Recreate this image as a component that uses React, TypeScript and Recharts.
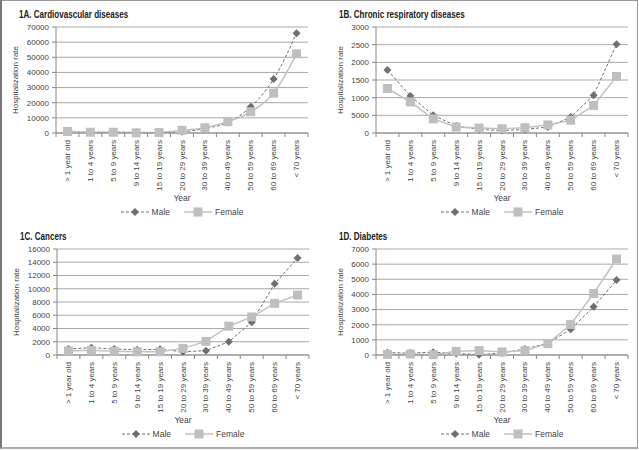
import { LineChart, Line, XAxis, YAxis, CartesianGrid, Legend } from 'recharts';

const ageGroups = [
  '> 1 year old',
  '1 to 4 years',
  '5 to 9 years',
  '9 to 14 years',
  '15 to 19 years',
  '20 to 29 years',
  '30 to 39 years',
  '40 to 49 years',
  '50 to 59 years',
  '60 to 69 years',
  '< 70 years',
];

const cardioMale = [1500, 500, 500, 500, 300, 800, 3000, 7000, 17300, 35600, 65800];
const cardioFemale = [1000, 500, 500, 100, 300, 1800, 3500, 7500, 14000, 26300, 52300];
const cardioTicks = [0, 10000, 20000, 30000, 40000, 50000, 60000, 70000];

const respMale = [1780, 1050, 500, 200, 100, 70, 100, 170, 450, 1070, 2510];
const respFemale = [1260, 880, 400, 170, 140, 120, 150, 230, 360, 780, 1600];
const respTicks = [0, 500, 1000, 1500, 2000, 2500, 3000];
// the source figure prints "5000" at the 500 gridline
const respTickLabels = ['0', '5000', '1000', '1500', '2000', '2500', '3000'];

const cancerMale = [900, 1100, 900, 800, 850, 500, 650, 2000, 4950, 10750, 14650];
const cancerFemale = [600, 700, 550, 500, 500, 1000, 2050, 4350, 5750, 7800, 9050];
const cancerTicks = [0, 2000, 4000, 6000, 8000, 10000, 12000, 14000, 16000];

const diabMale = [150, 130, 180, 100, 20, 130, 400, 770, 1700, 3180, 4950];
const diabFemale = [40, 60, 20, 240, 290, 200, 290, 750, 2010, 4060, 6340];
const diabTicks = [0, 1000, 2000, 3000, 4000, 5000, 6000, 7000];

const FONT = "'Liberation Sans', Arial, sans-serif";
const MALE_COLOR = '#6f6f6f';
const FEMALE_COLOR = '#c2c2c2';

const W = 320;
const H = 225;
const MARGIN = { top: 27, right: 12, left: 0, bottom: 6 };
const Y_W = 56;
const BAND = (W - MARGIN.right - Y_W) / ageGroups.length;

function Diamond(props: any) {
  const { cx, cy, index } = props;
  if (cx == null || cy == null) return null;
  return (
    <path
      key={`d-${index}`}
      d={`M${cx},${cy - 4}L${cx + 4},${cy}L${cx},${cy + 4}L${cx - 4},${cy}Z`}
      fill={MALE_COLOR}
    />
  );
}

function Square(props: any) {
  const { cx, cy, index } = props;
  if (cx == null || cy == null) return null;
  return <rect key={`s-${index}`} x={cx - 4.5} y={cy - 4.5} width={9} height={9} fill="#bfbfbf" />;
}

function AgeTick(props: any) {
  const { x, y, payload, index } = props;
  return (
    <g>
      <line x1={x + BAND / 2} x2={x + BAND / 2} y1={y} y2={y + 4} stroke="#888" />
      {index === 0 && <line x1={x - BAND / 2} x2={x - BAND / 2} y1={y} y2={y + 4} stroke="#888" />}
      <text
        x={x}
        y={y + 7}
        transform={`rotate(-90 ${x} ${y + 7})`}
        textAnchor="end"
        dominantBaseline="central"
        fontSize={8}
        fill="#444"
        fontFamily={FONT}
      >
        {payload.value}
      </text>
    </g>
  );
}

function LegendBox() {
  return (
    <div
      style={{
        display: 'flex',
        justifyContent: 'center',
        alignItems: 'center',
        height: 14,
        gap: 14,
        fontFamily: FONT,
        fontSize: 8.5,
        color: '#444',
      }}
    >
      <span style={{ display: 'flex', alignItems: 'center' }}>
        <svg width={28} height={10}>
          <line x1={0} x2={28} y1={5} y2={5} stroke={MALE_COLOR} strokeDasharray="3 2" />
          <path d="M14,1L18,5L14,9L10,5Z" fill={MALE_COLOR} />
        </svg>
        <span style={{ marginLeft: 3 }}>Male</span>
      </span>
      <span style={{ display: 'flex', alignItems: 'center' }}>
        <svg width={28} height={10}>
          <line x1={0} x2={28} y1={5} y2={5} stroke={FEMALE_COLOR} strokeWidth={1.5} />
          <rect x={9.5} y={0.5} width={9} height={9} fill="#bfbfbf" />
        </svg>
        <span style={{ marginLeft: 3 }}>Female</span>
      </span>
    </div>
  );
}

interface PanelProps {
  title: string;
  left: number;
  top: number;
  male: number[];
  female: number[];
  ticks: number[];
  tickLabels?: string[];
  labelOffset: number;
  curve: 'linear' | 'monotone';
}

function Panel({ title, left, top, male, female, ticks, tickLabels, labelOffset, curve }: PanelProps) {
  const data = ageGroups.map((age, i) => ({ age, male: male[i], female: female[i] }));
  const fmt = (v: number) => {
    const i = ticks.indexOf(v);
    return tickLabels && i >= 0 ? tickLabels[i] : String(v);
  };
  return (
    <div style={{ position: 'absolute', left, top, width: W, height: H }}>
      <div
        style={{
          position: 'absolute',
          left: 19,
          top: 8,
          fontFamily: FONT,
          fontWeight: 'bold',
          fontSize: 11.5,
          lineHeight: '12px',
          color: '#222',
          whiteSpace: 'nowrap',
          transform: 'scaleX(0.7)',
          transformOrigin: 'left center',
        }}
      >
        {title}
      </div>
      <LineChart width={W} height={H} data={data} margin={MARGIN} style={{ fontFamily: FONT }}>
        <CartesianGrid vertical={false} stroke="#a9a9a9" />
        <XAxis
          dataKey="age"
          interval={0}
          height={72}
          padding={{ left: BAND / 2, right: BAND / 2 }}
          tickLine={false}
          tickSize={0}
          tickMargin={0}
          axisLine={{ stroke: '#888' }}
          tick={<AgeTick />}
          label={{ value: 'Year', position: 'insideBottom', offset: 4, fontSize: 8.5, fill: '#444' }}
        />
        <YAxis
          width={Y_W}
          domain={[ticks[0], ticks[ticks.length - 1]]}
          ticks={ticks}
          interval={0}
          tickFormatter={fmt}
          tickSize={4}
          tickMargin={3}
          axisLine={{ stroke: '#888' }}
          tickLine={{ stroke: '#888' }}
          tick={{ fontSize: 8, fill: '#444' }}
          label={{
            value: 'Hospitalization rate',
            angle: -90,
            position: 'insideLeft',
            offset: labelOffset,
            fontSize: 8,
            fill: '#444',
            style: { textAnchor: 'middle' },
          }}
        />
        <Legend
          verticalAlign="bottom"
          wrapperStyle={{ left: Y_W, width: W - Y_W - MARGIN.right }}
          content={() => <LegendBox />}
        />
        <Line
          type={curve}
          dataKey="male"
          name="Male"
          stroke={MALE_COLOR}
          strokeDasharray="3 2"
          strokeWidth={1}
          dot={<Diamond />}
          isAnimationActive={false}
        />
        <Line
          type={curve}
          dataKey="female"
          name="Female"
          stroke={FEMALE_COLOR}
          strokeWidth={1.5}
          dot={<Square />}
          isAnimationActive={false}
        />
      </LineChart>
    </div>
  );
}

export default function App() {
  return (
    <div style={{ position: 'absolute', left: 0, top: 0, width: 639, height: 450, background: '#fff' }}>
      <div
        style={{
          position: 'absolute',
          left: 0,
          top: 0,
          width: 635,
          height: 446,
          borderTop: '1px solid #999',
          borderRight: '1px solid #999',
          borderBottom: '2px solid #aaa',
          borderLeft: '2px solid #777',
        }}
      />
      <Panel
        title="1A. Cardiovascular diseases"
        left={0}
        top={0}
        male={cardioMale}
        female={cardioFemale}
        ticks={cardioTicks}
        labelOffset={15}
        curve="monotone"
      />
      <Panel
        title="1B. Chronic respiratory diseases"
        left={320}
        top={0}
        male={respMale}
        female={respFemale}
        ticks={respTicks}
        tickLabels={respTickLabels}
        labelOffset={20}
        curve="linear"
      />
      <Panel
        title="1C. Cancers"
        left={1}
        top={222}
        male={cancerMale}
        female={cancerFemale}
        ticks={cancerTicks}
        labelOffset={15}
        curve="linear"
      />
      <Panel
        title="1D. Diabetes"
        left={320}
        top={222}
        male={diabMale}
        female={diabFemale}
        ticks={diabTicks}
        labelOffset={20}
        curve="linear"
      />
    </div>
  );
}
